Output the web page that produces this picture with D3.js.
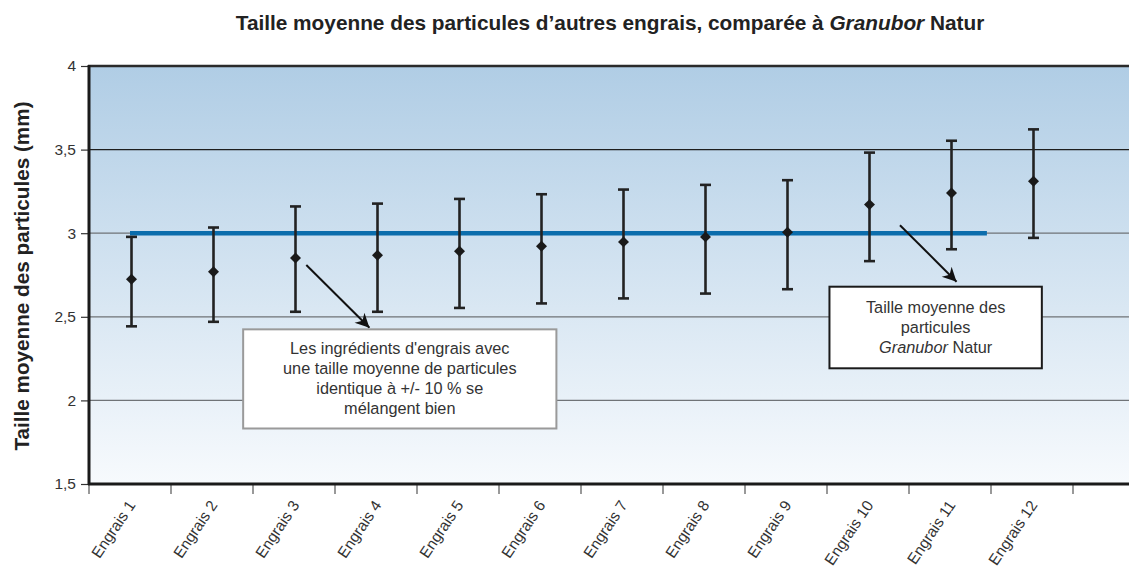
<!DOCTYPE html>
<html>
<head>
<meta charset="utf-8">
<script src="https://cdn.jsdelivr.net/npm/d3@7"></script>
<style>
  body { margin: 0; background: #fff; }
  svg text { font-family: "Liberation Sans", Arial, Helvetica, sans-serif; fill: #222; }
</style>
</head>
<body>
<svg id="chart"></svg>
<script>
const WIDTH = 1129;
const HEIGHT = 569;

// data
const categories = ["Engrais 1", "Engrais 2", "Engrais 3", "Engrais 4", "Engrais 5", "Engrais 6",
                    "Engrais 7", "Engrais 8", "Engrais 9", "Engrais 10", "Engrais 11", "Engrais 12"];
const means = [2.725, 2.769, 2.852, 2.868, 2.892, 2.922, 2.948, 2.978, 3.006, 3.171, 3.241, 3.311];
const upper = [2.978, 3.034, 3.160, 3.177, 3.205, 3.233, 3.261, 3.289, 3.317, 3.482, 3.553, 3.621];
const lower = [2.443, 2.470, 2.530, 2.530, 2.553, 2.580, 2.610, 2.639, 2.665, 2.833, 2.904, 2.972];
const yTicks = [1.5, 2, 2.5, 3, 3.5, 4];
const granuborSize = 3;

window.onload = function(){
    makeChart();
};

function makeChart(){
    const margin = {top: 66, right: 0, bottom: 85, left: 89};
    const plotRight = 1073; // last band edge

    let svg = d3.select('#chart')
        .attr('width', WIDTH)
        .attr('height', HEIGHT);

    const x = d3.scaleBand()
        .domain(categories)
        .range([margin.left, plotRight])
        .paddingInner(0).paddingOuter(0);

    const y = d3.scaleLinear()
        .domain([1.5, 4])
        .range([HEIGHT - margin.bottom, margin.top]);

    // fractional category position -> pixel, for line/annotation placement
    const xi = i => margin.left + x.bandwidth() * (i + 0.5);

    // background gradient
    const defs = svg.append('defs');
    const grad = defs.append('linearGradient')
        .attr('id', 'bg').attr('x1', 0).attr('y1', 0).attr('x2', 0).attr('y2', 1);
    grad.append('stop').attr('offset', '0%').attr('stop-color', '#b0cde5');
    grad.append('stop').attr('offset', '100%').attr('stop-color', '#f7fafd');

    defs.append('marker')
        .attr('id', 'arrow')
        .attr('viewBox', '0 0 10 10')
        .attr('refX', 10).attr('refY', 5)
        .attr('markerWidth', 8.5).attr('markerHeight', 7)
        .attr('markerUnits', 'strokeWidth')
        .attr('orient', 'auto')
        .append('path')
        .attr('d', 'M0,0 L10,5 L0,10 L3,5 Z')
        .attr('fill', '#111');

    svg.append('rect')
        .attr('x', margin.left)
        .attr('y', y(4))
        .attr('width', WIDTH - margin.left)
        .attr('height', y(1.5) - y(4))
        .attr('fill', 'url(#bg)');

    // gridlines
    svg.append('g')
        .selectAll('line')
        .data(yTicks.filter(d => d > 1.5 && d < 4))
        .enter()
        .append('line')
        .attr('x1', margin.left).attr('x2', WIDTH)
        .attr('y1', d => y(d)).attr('y2', d => y(d))
        .style('stroke', d => d === 3.5 ? '#1e1e1e' : '#6f7377')
        .style('stroke-width', 1.2);

    // top border
    svg.append('line')
        .attr('x1', margin.left - 1).attr('x2', WIDTH)
        .attr('y1', y(4)).attr('y2', y(4))
        .style('stroke', '#2a2a2a').style('stroke-width', 2.5);

    // y axis
    const yAxis = svg.append('g')
        .attr('transform', `translate(${margin.left},0)`)
        .call(d3.axisLeft(y).tickValues(yTicks).tickSize(8).tickPadding(5)
            .tickFormat(d => String(d).replace('.', ',')));
    yAxis.select('.domain').remove();
    yAxis.selectAll('.tick line').style('stroke', '#333').style('stroke-width', 1.2);
    yAxis.selectAll('.tick text')
        .style('font-size', '15.5px')
        .style('fill', '#333')
        .style('font-family', '"Liberation Sans", Arial, sans-serif');

    svg.append('line')
        .attr('x1', margin.left).attr('x2', margin.left)
        .attr('y1', y(4) - 1).attr('y2', y(1.5) + 1)
        .style('stroke', '#1a1a1a').style('stroke-width', 3);

    // x axis ticks (band edges)
    const edges = categories.map(c => x(c)).concat([plotRight]);
    svg.append('g')
        .selectAll('line')
        .data(edges)
        .enter()
        .append('line')
        .attr('x1', d => d).attr('x2', d => d)
        .attr('y1', y(1.5)).attr('y2', y(1.5) + 10)
        .style('stroke', '#777').style('stroke-width', 1.5);

    svg.append('line')
        .attr('x1', margin.left - 1).attr('x2', WIDTH)
        .attr('y1', y(1.5)).attr('y2', y(1.5))
        .style('stroke', '#1a1a1a').style('stroke-width', 3);

    svg.append('g')
        .selectAll('text')
        .data(categories)
        .enter()
        .append('text')
        .attr('transform', d => `translate(${x(d) + x.bandwidth() / 2 + 6},${y(1.5) + 21}) rotate(-56)`)
        .attr('text-anchor', 'end')
        .style('font-size', '15.5px')
        .style('fill', '#333')
        .text(d => d);

    // Granubor reference line
    svg.append('line')
        .attr('x1', xi(0)).attr('x2', xi(10.45))
        .attr('y1', y(granuborSize)).attr('y2', y(granuborSize))
        .style('stroke', '#0b6dac').style('stroke-width', 4.5);

    // error bars
    const bars = svg.append('g')
        .selectAll('g')
        .data(categories)
        .enter()
        .append('g')
        .attr('transform', (d, i) => `translate(${x(d) + x.bandwidth() / 2 + 1.5},0)`);

    bars.append('line')
        .attr('y1', (d, i) => y(upper[i])).attr('y2', (d, i) => y(lower[i]))
        .style('stroke', '#222').style('stroke-width', 2.6);
    bars.append('line')
        .attr('x1', -5.5).attr('x2', 5.5)
        .attr('y1', (d, i) => y(upper[i])).attr('y2', (d, i) => y(upper[i]))
        .style('stroke', '#222').style('stroke-width', 2.6);
    bars.append('line')
        .attr('x1', -5.5).attr('x2', 5.5)
        .attr('y1', (d, i) => y(lower[i])).attr('y2', (d, i) => y(lower[i]))
        .style('stroke', '#222').style('stroke-width', 2.6);
    bars.append('path')
        .attr('d', d3.symbol(d3.symbolSquare).size(60))
        .attr('transform', (d, i) => `translate(0,${y(means[i])}) rotate(45)`)
        .attr('fill', '#1a1a1a');

    // annotations
    function arrow(i0, v0, i1, v1){
        svg.append('line')
            .attr('x1', xi(i0)).attr('y1', y(v0))
            .attr('x2', xi(i1)).attr('y2', y(v1))
            .style('stroke', '#111').style('stroke-width', 2)
            .attr('marker-end', 'url(#arrow)');
    }
    function box(i0, v0, i1, v1, stroke, lines){
        svg.append('rect')
            .attr('x', xi(i0)).attr('y', y(v0))
            .attr('width', xi(i1) - xi(i0)).attr('height', y(v1) - y(v0))
            .attr('fill', '#fff')
            .style('stroke', stroke).style('stroke-width', 2);
        const cx = (xi(i0) + xi(i1)) / 2;
        const h = y(v1) - y(v0);
        const top = y(v0) + h / 2 - (lines.length - 1) * 10 + 5.5;
        lines.forEach((parts, k) => {
            const t = svg.append('text')
                .attr('x', cx).attr('y', top + k * 19.8)
                .attr('text-anchor', 'middle')
                .style('font-size', '16.3px')
                .style('fill', '#333');
            parts.forEach(p => t.append('tspan').style('font-style', p[1] ? 'italic' : 'normal').text(p[0]));
        });
    }

    arrow(2.15, 2.81, 2.92, 2.435);
    box(1.38, 2.425, 5.2, 1.832, '#9a9a9a', [
        [["Les ingrédients d'engrais avec", false]],
        [["une taille moyenne de particules", false]],
        [["identique à +/- 10 % se", false]],
        [["mélangent bien", false]]
    ]);

    arrow(9.39, 3.048, 10.08, 2.71);
    box(8.53, 2.68, 11.12, 2.192, '#1a1a1a', [
        [["Taille moyenne des", false]],
        [["particules", false]],
        [["Granubor", true], [" Natur", false]]
    ]);

    // titles
    const title = svg.append('text')
        .attr('x', 610).attr('y', 30)
        .attr('text-anchor', 'middle')
        .style('font-size', '20.8px')
        .style('font-weight', 'bold');
    title.append('tspan').text('Taille moyenne des particules d\u2019autres engrais, comparée à ');
    title.append('tspan').style('font-style', 'italic').text('Granubor');
    title.append('tspan').text(' Natur');

    svg.append('text')
        .attr('transform', `translate(29,${(y(4) + y(1.5)) / 2 + 1}) rotate(-90)`)
        .attr('text-anchor', 'middle')
        .style('font-size', '20.7px')
        .style('font-weight', 'bold')
        .text('Taille moyenne des particules (mm)');
}
</script>
</body>
</html>
